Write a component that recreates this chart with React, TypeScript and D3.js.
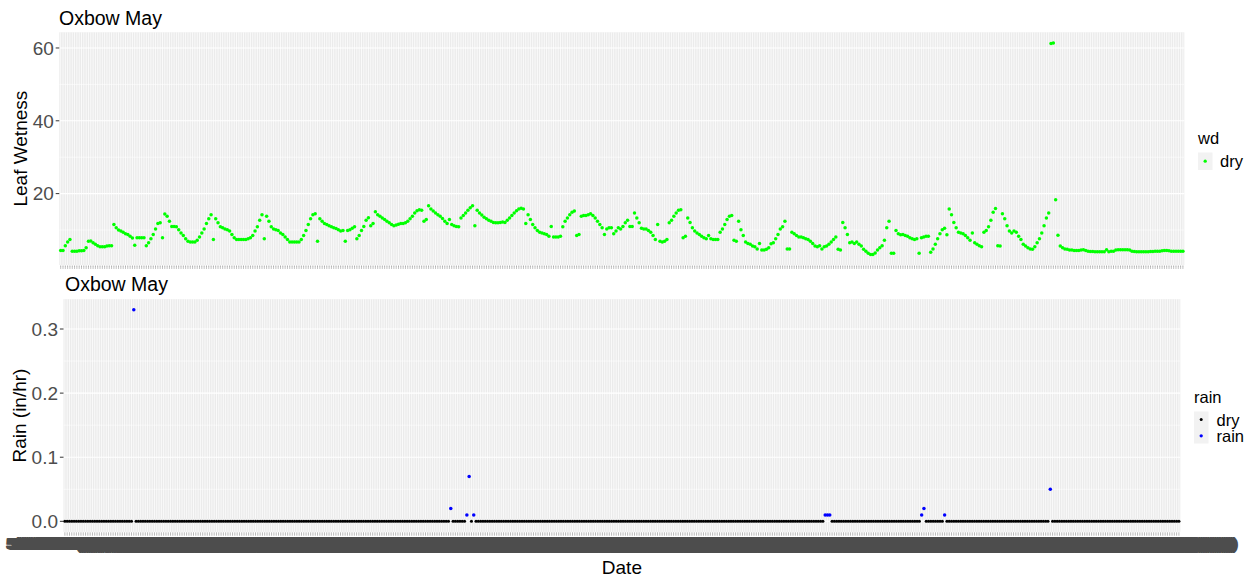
import React from "react";
import * as d3 from "d3";

// Hourly leaf wetness readings (sensor "wd" = dry throughout)
const leafWetness: number[] = [
  4.4, 4.4, 5.7, 6.7, 7.4, 4.2, 4.2, 4.2, 4.3, 4.3,
  4.4, 5.1, 6.9, 7.0, 6.5, 6.1, 5.7, 5.4, 5.4, 5.4,
  5.6, 5.7, 5.7, 11.5, 10.6, 10.0, 9.7, 9.4, 9.0, 8.8,
  8.3, 7.8, 5.8, 7.9, 7.9, 7.9, 7.9, 5.7, 6.5, 7.6,
  8.8, 10.3, 11.8, 12.0, 7.9, 14.4, 13.8, 12.4, 11.0, 11.0,
  10.9, 10.1, 9.2, 8.5, 7.6, 6.9, 6.7, 6.7, 6.7, 7.2,
  8.1, 9.2, 10.3, 11.8, 13.1, 14.2, 7.4, 13.1, 12.0, 10.9,
  10.6, 10.3, 10.1, 9.7, 8.8, 7.9, 7.4, 7.4, 7.4, 7.4,
  7.4, 7.6, 7.9, 8.5, 9.7, 10.9, 12.7, 14.2, 7.6, 13.8,
  12.4, 10.9, 10.3, 10.1, 9.9, 9.2, 8.8, 8.1, 7.4, 6.7,
  6.7, 6.7, 6.7, 6.7, 7.4, 8.5, 9.9, 11.5, 13.1, 14.2,
  14.5, 6.9, 13.1, 12.4, 11.8, 11.5, 11.2, 10.9, 10.6, 10.4,
  10.1, 9.7,
  9.9, 6.9, 9.9, 10.1, 10.5, 10.9, 7.6, 8.5, 9.9, 11.0,
  12.7, 13.4, 11.2, 11.8, 15.0, 14.2, 13.8, 13.3, 12.9, 12.4,
  12.0, 11.5, 11.2, 11.4, 11.6, 11.8, 11.8, 12.0, 12.4, 13.1,
  13.8, 14.7, 15.3, 15.6, 15.4, 12.4, 12.9, 16.7, 15.8, 15.2,
  14.7, 14.2, 13.8, 13.2, 12.4, 11.8, 12.9, 11.5, 11.2, 11.0,
  10.9, 13.3, 14.0, 14.7, 15.4, 16.1, 16.7, 11.2, 15.4, 14.7,
  14.1, 13.5, 13.1, 12.7, 12.4, 12.1, 12.0, 12.0, 12.1, 12.2,
  12.1, 12.7, 13.3, 14.0, 14.7, 15.3, 15.8, 16.0, 15.8, 11.8,
  14.2, 12.9, 11.5, 10.6, 9.9, 9.4, 9.2, 9.0, 8.8, 8.3,
  11.0, 8.1, 8.1, 8.1, 8.3, 10.9, 12.4, 13.3, 14.2, 14.9,
  15.2, 8.5, 8.8, 13.8, 14.0, 14.0, 14.2, 14.5, 14.0, 13.3,
  12.4, 11.5, 10.6, 8.8, 10.3, 10.6, 10.6, 9.0, 9.7, 10.6,
  10.3, 11.0, 12.0, 12.7, 11.0, 11.0, 14.7, 13.3, 12.0, 10.5,
  10.3, 10.3, 9.9, 9.4, 8.5, 7.4, 11.5, 6.9, 6.7, 6.9,
  7.4, 12.0, 12.7, 13.8, 14.7, 15.4, 15.6, 7.9, 8.3, 13.3,
  12.1, 10.6, 9.7, 9.2, 8.8, 8.3, 7.9, 7.6, 8.5, 7.6,
  7.4, 7.4, 7.4, 9.4, 10.3, 11.5, 12.9, 13.8, 14.0, 7.2,
  6.9, 12.4, 10.1, 8.5, 6.7, 6.3, 6.1, 5.6, 5.4, 4.8,
  6.3, 4.5, 4.5, 4.7, 5.1, 6.2, 6.5, 7.6, 8.8, 10.3,
  10.9, 12.4, 4.8, 4.8, 9.4, 9.0, 8.5, 8.1, 8.1, 7.9,
  7.6, 7.4, 6.9, 6.3, 5.6, 5.4, 5.7, 4.8, 5.4, 5.6,
  6.1, 6.7, 7.4, 8.1, 4.7, 4.5, 12.1, 10.6, 8.8, 6.5,
  6.7, 6.3, 6.7, 6.1, 5.6, 4.7, 4.2, 3.6, 3.3, 3.3,
  3.7, 4.5, 5.1, 5.7, 7.2, 10.6, 12.4, 3.6, 3.6, 9.9, 9.0,
  8.7, 8.8, 8.5, 8.3, 7.9, 7.6, 7.4, 7.6, 3.6, 7.9,
  8.1, 8.3, 8.3, 3.9, 4.8, 6.1, 7.6, 9.0, 10.1, 10.5,
  8.7, 15.8, 14.2, 12.1, 10.6, 9.4, 9.2, 9.0, 8.5, 7.9,
  7.2, 9.2, 6.5, 6.1, 5.7, 5.4, 9.4, 9.9, 10.9, 12.7,
  14.9, 15.9, 5.7, 5.6, 14.5, 13.1, 11.2, 9.7, 9.2, 9.7,
  9.4, 8.3, 7.4, 6.1, 5.6, 5.1, 4.8, 4.7, 5.4, 6.5,
  7.6, 9.2, 11.2, 13.3, 14.7, 61.2, 61.4, 18.3, 8.6, 5.6,
  5.1, 4.8, 4.7, 4.5, 4.5, 4.4, 4.4, 4.4, 4.5, 4.6,
  4.4, 4.2, 4.1, 4.1, 4.0, 4.0, 4.0, 4.0, 4.0, 4.6,
  4.0, 4.2, 4.2, 4.5, 4.6, 4.6, 4.6, 4.6, 4.6, 4.5,
  4.2, 4.1, 4.0, 4.0, 4.0, 4.0, 4.0, 4.0, 4.1, 4.1,
  4.2, 4.2, 4.2, 4.3, 4.4, 4.4, 4.3, 4.2, 4.2, 4.2,
  4.2, 4.2, 4.2,
];

// Hours (offset from the first reading) with measurable rain, and amounts in in/hr
const rainHour: number[] = [30, 168, 175, 176, 178, 331, 332, 333, 373, 374, 383, 429];
const rainAmount: number[] = [0.33, 0.02, 0.01, 0.07, 0.01, 0.01, 0.01, 0.01, 0.01, 0.02, 0.01, 0.05];

const firstHour = new Date(Date.UTC(2021, 4, 11, 0));
const leafTicks: number[] = [20, 40, 60];
const rainTicks: number[] = [0, 0.1, 0.2, 0.3];
const chartTitle = "Oxbow May";

const FONT = "'Liberation Sans', Arial, sans-serif";
const PANEL_BG = "#EBEBEB";
const TEXT_GRAY = "#4D4D4D";

const hours = d3.range(leafWetness.length).map((i) => d3.utcHour.offset(firstHour, i));
const fmt = d3.utcFormat("%-m/%-d/%Y (%H:%M)");
const categories = hours.map(fmt);

const rainByHour = new Map<number, number>();
rainHour.forEach((h, k) => rainByHour.set(h, rainAmount[k]));

function expand(lo: number, hi: number): [number, number] {
  const pad = (hi - lo) * 0.05;
  return [lo - pad, hi + pad];
}

const top = { x0: 59.3, x1: 1184.3, y0: 32.3, y1: 265 };
const bot = { x0: 63.5, x1: 1180.3, y0: 299.2, y1: 531.9 };

const xTop = d3.scalePoint<string>().domain(categories).range([top.x0, top.x1]).padding(0.6);
const xBot = d3.scalePoint<string>().domain(categories).range([bot.x0, bot.x1]).padding(0.6);

const yTop = d3
  .scaleLinear()
  .domain(expand(d3.min(leafWetness) as number, d3.max(leafWetness) as number))
  .range([top.y1, top.y0]);

const rainSeries = leafWetness.map((_, i) => rainByHour.get(i) ?? 0);
const yBot = d3
  .scaleLinear()
  .domain(expand(0, d3.max(rainSeries) as number))
  .range([bot.y1, bot.y0]);

function minorBreaks(major: number[], scale: d3.ScaleLinear<number, number>) {
  const step = major[1] - major[0];
  const [lo, hi] = scale.domain();
  const out: number[] = [];
  for (let k = -1; k <= major.length; k++) {
    const v = major[0] + step * (k + 0.5);
    if (v >= lo && v <= hi) out.push(v);
  }
  return out;
}

function Panel({
  box,
  x,
  y,
  ticks,
  tickFormat,
}: {
  box: { x0: number; x1: number; y0: number; y1: number };
  x: d3.ScalePoint<string>;
  y: d3.ScaleLinear<number, number>;
  ticks: number[];
  tickFormat: (v: number) => string;
}) {
  const vPath = categories.map((c) => `M${x(c)},${box.y0}V${box.y1}`).join("");
  const tickPath = categories.map((c) => `M${x(c)},${box.y1 + 0.6}V${box.y1 + 3.6}`).join("");
  return (
    <g>
      <rect x={box.x0} y={box.y0} width={box.x1 - box.x0} height={box.y1 - box.y0} fill={PANEL_BG} />
      {minorBreaks(ticks, y).map((v) => (
        <line key={"mn" + v} x1={box.x0} x2={box.x1} y1={y(v)} y2={y(v)} stroke="#fff" strokeWidth={0.55} />
      ))}
      <path d={vPath} stroke="#fff" strokeWidth={0.75} fill="none" />
      {ticks.map((v) => (
        <line key={"mj" + v} x1={box.x0} x2={box.x1} y1={y(v)} y2={y(v)} stroke="#fff" strokeWidth={1.1} />
      ))}
      {ticks.map((v) => (
        <g key={"t" + v}>
          <line x1={box.x0 - 3.6} x2={box.x0} y1={y(v)} y2={y(v)} stroke="#333" strokeWidth={1} />
          <text
            x={box.x0 - 5.5}
            y={y(v)}
            dy="0.36em"
            textAnchor="end"
            fontSize={19}
            fill={TEXT_GRAY}
            fontFamily={FONT}
          >
            {tickFormat(v)}
          </text>
        </g>
      ))}
      <path d={tickPath} stroke="#555" strokeWidth={0.6} strokeDasharray="1.2,0.6" fill="none" />
    </g>
  );
}

export default function App() {
  const fmt1 = d3.format(".1f");
  return (
    <svg
      width={1255}
      height={579}
      style={{ position: "absolute", left: 0, top: 0, background: "#fff" }}
      fontFamily={FONT}
    >
      {/* Leaf wetness panel */}
      <text x={59} y={24.7} fontSize={19.5} fill="#000">
        {chartTitle}
      </text>
      <Panel box={top} x={xTop} y={yTop} ticks={leafTicks} tickFormat={(v) => String(v)} />
      <g>
        {leafWetness.map((v, i) => (
          <circle key={i} cx={xTop(categories[i])} cy={yTop(v)} r={1.75} fill="#00FF00" />
        ))}
      </g>
      <text
        transform={`translate(26.5,${(top.y0 + top.y1) / 2}) rotate(-90)`}
        textAnchor="middle"
        fontSize={19}
        fill="#000"
      >
        Leaf Wetness
      </text>
      <g>
        <text x={1198} y={144} fontSize={16.5} fill="#000">
          wd
        </text>
        <rect x={1198} y={152.5} width={14.5} height={17.5} fill="#F2F2F2" />
        <circle cx={1205.2} cy={161.2} r={1.65} fill="#00FF00" />
        <text x={1220} y={167} fontSize={16.5} fill="#000">
          dry
        </text>
      </g>

      {/* Rain panel */}
      <text x={65} y={291} fontSize={19.5} fill="#000">
        {chartTitle}
      </text>
      <Panel box={bot} x={xBot} y={yBot} ticks={rainTicks} tickFormat={fmt1} />
      <g>
        {rainSeries.map((v, i) =>
          rainByHour.has(i) ? null : (
            <circle key={"d" + i} cx={xBot(categories[i])} cy={yBot(v)} r={1.55} fill="#000" />
          )
        )}
        {rainSeries.map((v, i) =>
          rainByHour.has(i) ? (
            <circle key={"r" + i} cx={xBot(categories[i])} cy={yBot(v)} r={1.75} fill="#0000FF" />
          ) : null
        )}
      </g>
      {/* hourly category labels: dense enough that they merge into one strip */}
      <g>
        {categories.map((c) => (
          <text
            key={c}
            x={xBot(c)}
            y={548.5}
            textAnchor="middle"
            fontSize={15}
            fill={TEXT_GRAY}
            stroke={TEXT_GRAY}
            strokeWidth={1.8}
            strokeLinejoin="round"
          >
            {c}
          </text>
        ))}
      </g>
      <text
        transform={`translate(26,${(bot.y0 + bot.y1) / 2}) rotate(-90)`}
        textAnchor="middle"
        fontSize={19}
        fill="#000"
      >
        Rain (in/hr)
      </text>
      <text x={(bot.x0 + bot.x1) / 2} y={574} textAnchor="middle" fontSize={19} fill="#000">
        Date
      </text>
      <g>
        <text x={1194} y={402.5} fontSize={16.5} fill="#000">
          rain
        </text>
        <rect x={1194} y={411.5} width={14.5} height={32} fill="#F2F2F2" />
        <circle cx={1201.2} cy={419.6} r={1.5} fill="#000" />
        <circle cx={1201.2} cy={435.8} r={1.65} fill="#0000FF" />
        <text x={1216.5} y={425.5} fontSize={16.5} fill="#000">
          dry
        </text>
        <text x={1216.5} y={442} fontSize={16.5} fill="#000">
          rain
        </text>
      </g>
    </svg>
  );
}
